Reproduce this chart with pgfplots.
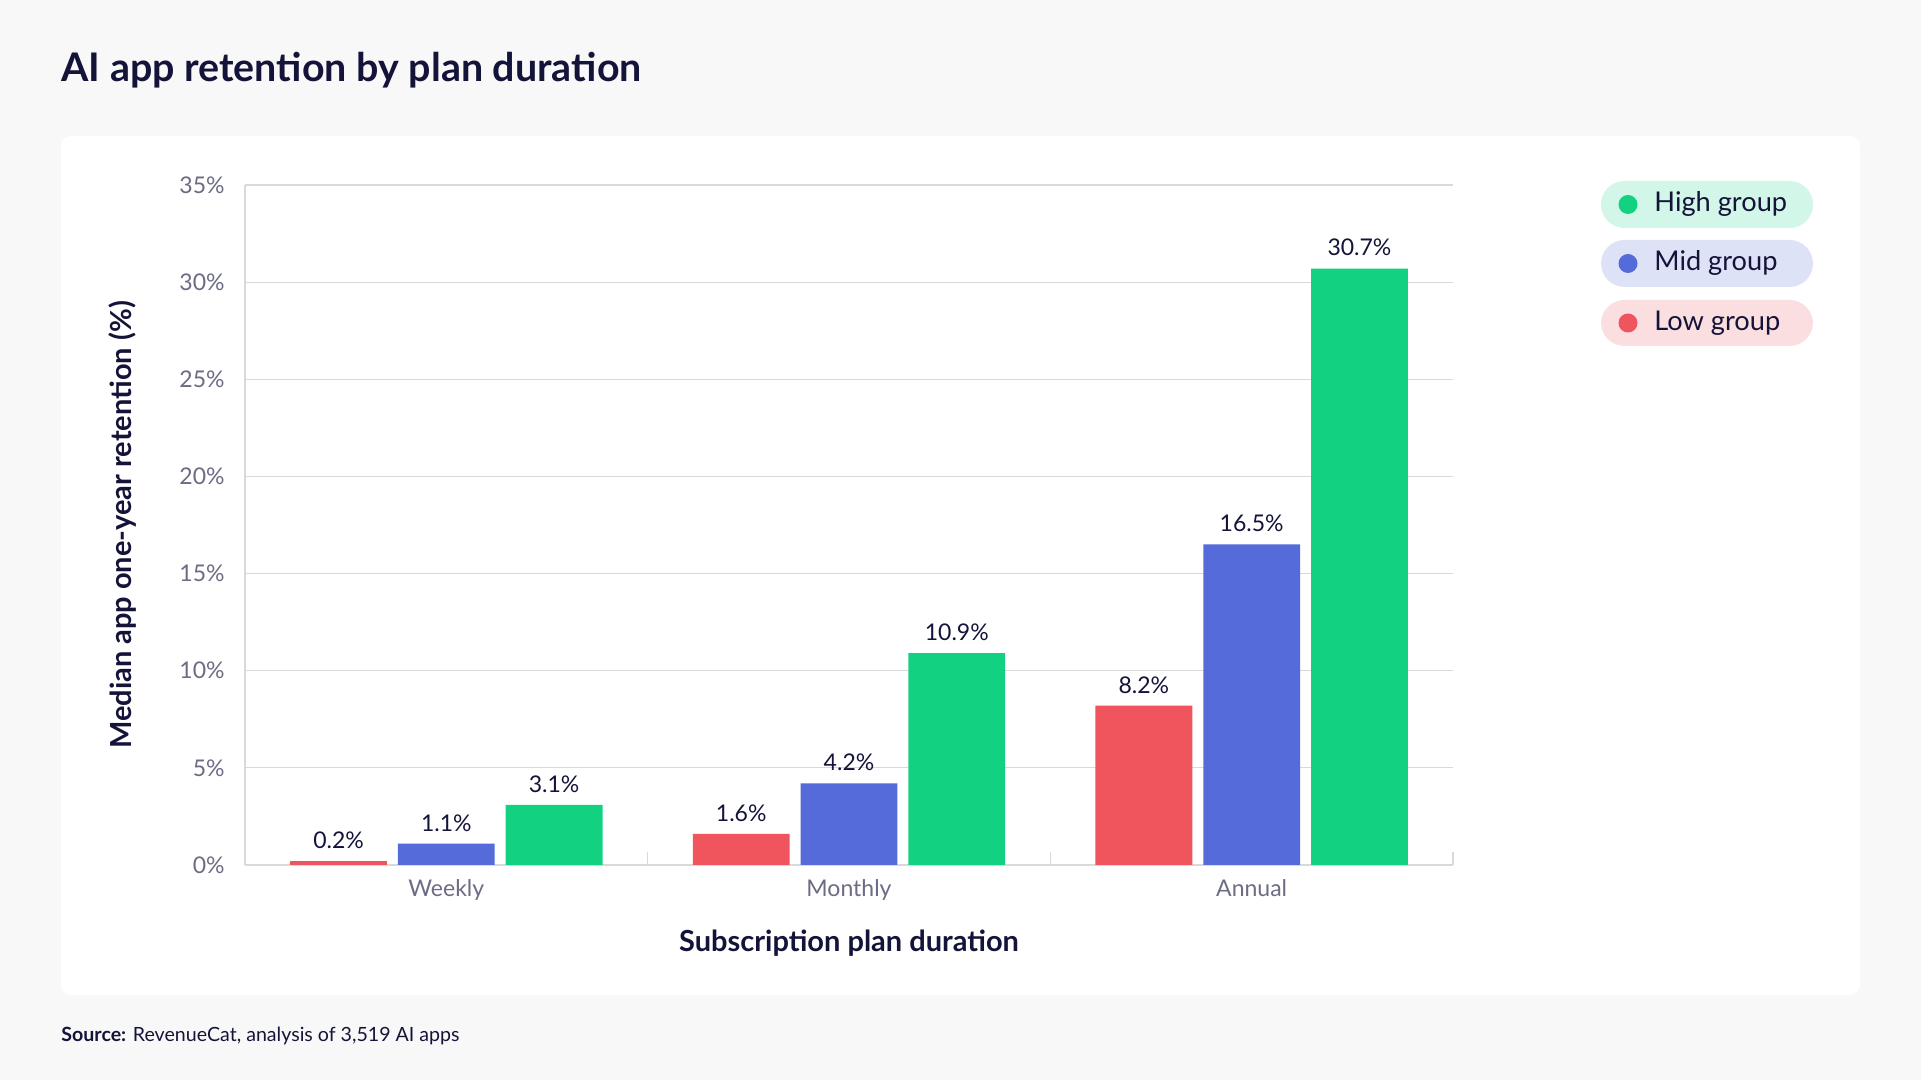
\documentclass[border=0pt]{standalone}
\usepackage{fontspec}
\setmainfont{Lato}
\usepackage{pgfplots}
\pgfplotsset{compat=1.18}
\definecolor{bgc}{HTML}{F8F8F8}
\definecolor{navy}{HTML}{14143A}
\definecolor{tickc}{HTML}{6C6C84}
\definecolor{gridc}{HTML}{D9D9D9}
\definecolor{redc}{HTML}{F0545C}
\definecolor{bluec}{HTML}{566BDA}
\definecolor{greenc}{HTML}{12D282}
\definecolor{redl}{HTML}{FBDFE0}
\definecolor{bluel}{HTML}{DEE2F7}
\definecolor{greenl}{HTML}{D2F6E8}
\begin{document}
\begin{tikzpicture}[x=1pt,y=1pt]
\fill[bgc] (0,0) rectangle (960.5,540);
\useasboundingbox (0,0) rectangle (960.5,540);
\fill[white, rounded corners=5pt] (30.5,42.5) rectangle (930,472);
\node[anchor=base west, inner sep=0pt, text=navy, font=\fontsize{19.7}{22}\selectfont\bfseries] at (30.5,499) {AI app retention by plan duration};
\node[anchor=base west, inner sep=0pt, text=navy, font=\fontsize{9.8}{11}\selectfont] at (30.5,19) {\textbf{Source:} RevenueCat, analysis of 3,519 AI apps};
\begin{axis}[
  at={(122.5pt,107.5pt)}, anchor=south west,
  scale only axis, width=604pt, height=340pt,
  xmin=-0.5, xmax=2.5, ymin=0, ymax=35,
  ybar, bar width=48.4pt,
  axis x line=bottom, axis y line=left,
  axis line style={-, draw=gridc, line width=0.8pt},
  xtick={0,1,2}, xticklabels={Weekly,Monthly,Annual},
  minor xtick={0.5,1.5,2.5},
  ytick={0,5,10,15,20,25,30,35},
  yticklabel={\pgfmathprintnumber{\tick}\%},
  /pgf/number format/assume math mode=true,
  major tick length=0pt, minor tick length=6.5pt, tick align=inside,
  minor tick style={draw=gridc, line width=0.8pt},
  ymajorgrids, major grid style={draw=gridc, line width=0.6pt},
  tick label style={text=tickc, font=\fontsize{11.5}{13}\selectfont},
  yticklabel style={inner sep=0pt, xshift=-10pt, anchor=east},
  xticklabel style={inner sep=0pt, anchor=base, yshift=-16pt},
  nodes near coords={\pgfmathprintnumber[fixed,precision=1,fixed zerofill]{\pgfplotspointmeta}\%},
  every node near coord/.append style={text=navy, font=\fontsize{11.5}{13}\selectfont, inner sep=0pt, anchor=south, yshift=6pt, /pgf/number format/assume math mode=true},
  clip=false,
]
\addplot[fill=redc, draw=none, bar shift=-53.9pt] coordinates {(0,0.2) (1,1.6) (2,8.2)};
\addplot[fill=bluec, draw=none, bar shift=0pt] coordinates {(0,1.1) (1,4.2) (2,16.5)};
\addplot[fill=greenc, draw=none, bar shift=53.9pt] coordinates {(0,3.1) (1,10.9) (2,30.7)};
\end{axis}
\node[rotate=90, text=navy, font=\fontsize{14.5}{17}\selectfont\bfseries] at (61.25,277.5) {Median app one-year retention (\%)};
\node[text=navy, font=\fontsize{14.5}{17}\selectfont\bfseries] at (424.5,68.5) {Subscription plan duration};
% legend
\fill[greenl, rounded corners=11.75pt] (800.5,426) rectangle (906.5,449.5);
\fill[greenc] (814,437.75) circle (4.75);
\node[anchor=base west, inner sep=0pt, text=navy, font=\fontsize{13.6}{15}\selectfont] at (827,434) {High group};
\fill[bluel, rounded corners=11.75pt] (800.5,396.5) rectangle (906.5,420);
\fill[bluec] (814,408.25) circle (4.75);
\node[anchor=base west, inner sep=0pt, text=navy, font=\fontsize{13.6}{15}\selectfont] at (827,404.5) {Mid group};
\fill[redl, rounded corners=11.75pt] (800.5,367) rectangle (906.5,390);
\fill[redc] (814,378.5) circle (4.75);
\node[anchor=base west, inner sep=0pt, text=navy, font=\fontsize{13.6}{15}\selectfont] at (827,374.75) {Low group};
\end{tikzpicture}
\end{document}
